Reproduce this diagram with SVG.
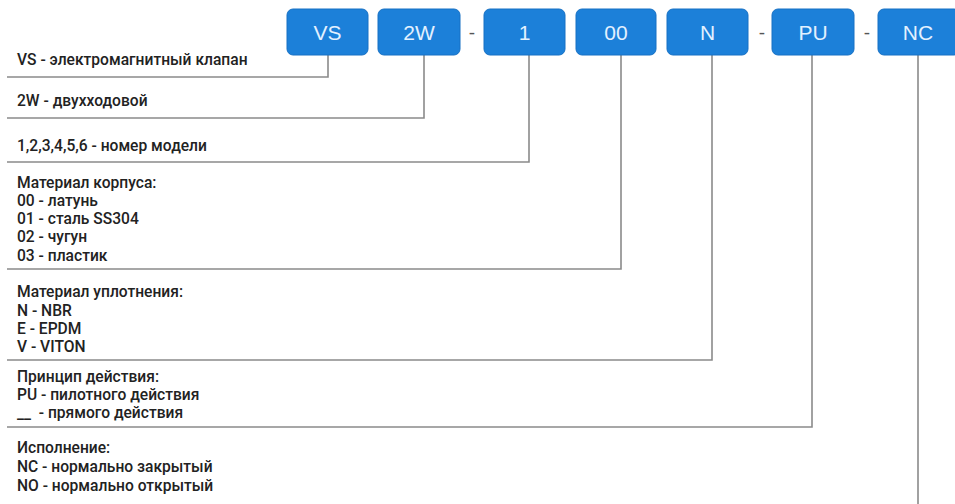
<svg xmlns="http://www.w3.org/2000/svg" width="955" height="504" viewBox="0 0 955 504">
<style>
.box rect{fill:#1c80d9;stroke:#1670c4;stroke-width:1}
.box text{fill:#e3f1ff;font-family:"Liberation Sans",Arial,sans-serif;font-size:21px;text-anchor:middle}
.sep{fill:#555;font-family:"Liberation Sans",Arial,sans-serif;font-size:19px;text-anchor:middle}
.lbl{fill:#222;font-family:Roboto,"Liberation Sans",sans-serif;font-size:15.6px;font-weight:500;white-space:pre}
.conn path{fill:none;stroke:#8a8a8a;stroke-width:1.6}
</style>
<rect width="955" height="504" fill="#fff"/>
<g class="conn">
<path d="M328 55V77H7"/>
<path d="M424 55V118H7"/>
<path d="M529 55V162H7"/>
<path d="M621 55V269H7"/>
<path d="M712 55V360H7"/>
<path d="M812 55V427H7"/>
<path d="M918 55V504"/>
</g>
<g id="n-vs" class="box"><rect x="287" y="9" width="81" height="46" rx="6"/><text x="327.5" y="40">VS</text></g>
<g id="n-2w" class="box"><rect x="378" y="9" width="82" height="46" rx="6"/><text x="419" y="40">2W</text></g>
<text class="sep" x="472" y="39">-</text>
<g id="n-1" class="box"><rect x="484" y="9" width="81" height="46" rx="6"/><text x="524.5" y="40">1</text></g>
<g id="n-00" class="box"><rect x="576" y="9" width="80" height="46" rx="6"/><text x="616" y="40">00</text></g>
<g id="n-n" class="box"><rect x="667" y="9" width="81" height="46" rx="6"/><text x="707.5" y="40">N</text></g>
<text class="sep" x="762" y="39">-</text>
<g id="n-pu" class="box"><rect x="772" y="9" width="82" height="46" rx="6"/><text x="813" y="40">PU</text></g>
<text class="sep" x="867" y="39">-</text>
<g id="n-nc" class="box"><rect x="878" y="9" width="82" height="46" rx="6"/><text x="918" y="40">NC</text></g>
<g id="l-vs"><text class="lbl" x="17" y="65">VS - электромагнитный клапан</text></g>
<g id="l-2w"><text class="lbl" x="17" y="106">2W - двухходовой</text></g>
<g id="l-1"><text class="lbl" x="17" y="151">1,2,3,4,5,6 - номер модели</text></g>
<g id="l-00"><text class="lbl" x="17" y="188">Материал корпуса:</text><text class="lbl" x="17" y="206">00 - латунь</text><text class="lbl" x="17" y="224">01 - сталь SS304</text><text class="lbl" x="17" y="242">02 - чугун</text><text class="lbl" x="17" y="261">03 - пластик</text></g>
<g id="l-n"><text class="lbl" x="17" y="297">Материал уплотнения:</text><text class="lbl" x="17" y="316">N - NBR</text><text class="lbl" x="17" y="334">E - EPDM</text><text class="lbl" x="17" y="352">V - VITON</text></g>
<g id="l-pu"><text class="lbl" x="17" y="382">Принцип действия:</text><text class="lbl" x="17" y="400">PU - пилотного действия</text><text class="lbl" x="17" y="418">__  - прямого действия</text></g>
<g id="l-nc"><text class="lbl" x="17" y="453">Исполнение:</text><text class="lbl" x="17" y="472">NC - нормально закрытый</text><text class="lbl" x="17" y="491">NO - нормально открытый</text></g>
</svg>
